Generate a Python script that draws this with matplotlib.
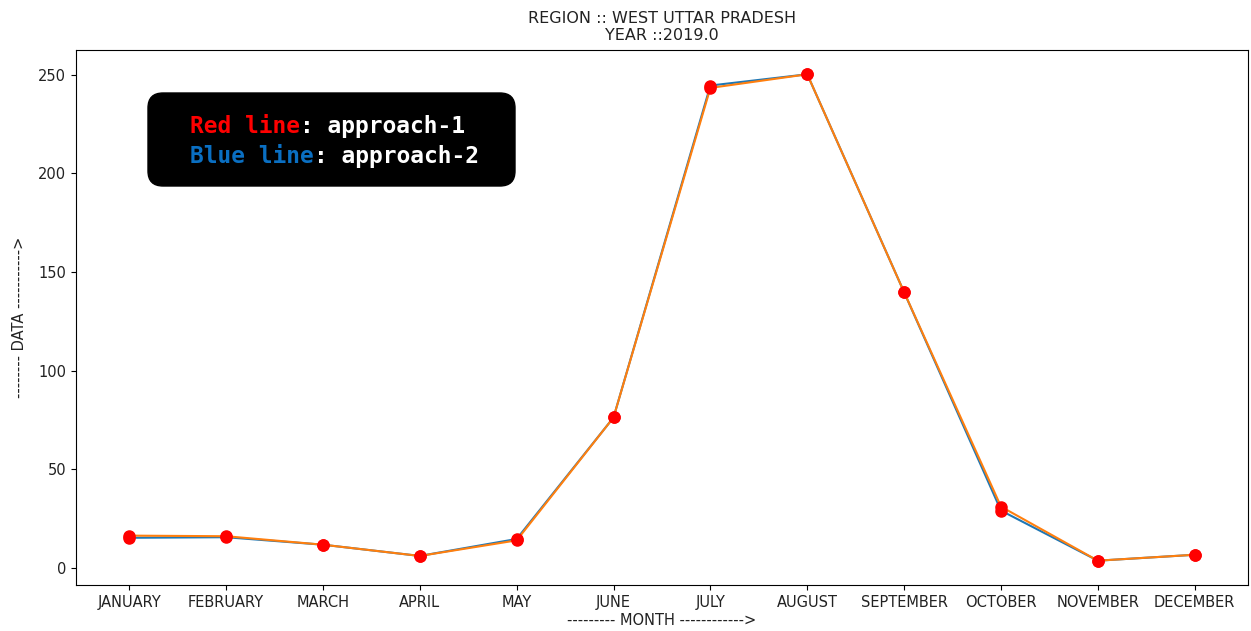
import matplotlib
matplotlib.use("Agg")
import matplotlib.pyplot as plt
from matplotlib.patches import FancyBboxPatch

months = ["JANUARY", "FEBRUARY", "MARCH", "APRIL", "MAY", "JUNE", "JULY",
          "AUGUST", "SEPTEMBER", "OCTOBER", "NOVEMBER", "DECEMBER"]
approach_2 = [15.2, 15.5, 11.7, 6.0, 14.6, 76.2, 244.5, 250.2, 139.7, 29.0, 3.6, 6.6]
approach_1 = [16.3, 16.0, 11.7, 6.0, 13.9, 76.2, 243.3, 250.2, 139.7, 31.0, 3.6, 6.6]

region = "WEST UTTAR PRADESH"
year = 2019.0

fig = plt.figure(figsize=(12.51, 6.31), dpi=100)
ax = fig.add_axes([0.0607, 0.0729, 0.9369, 0.8479])

x = list(range(len(months)))
ax.plot(x, approach_2, color="#1f77b4", linewidth=1.5)
ax.plot(x, approach_1, color="#ff7f0e", linewidth=1.5)
ax.plot(x, approach_2, "ro", markersize=8)
ax.plot(x, approach_1, "ro", markersize=8)

ax.set_xticks(x)
ax.set_xticklabels(months, fontsize=10.5, color="#222222")
ax.tick_params(axis="y", labelsize=10.5, labelcolor="#222222")
ax.set_xlabel("--------- MONTH ------------>", fontsize=10.5, labelpad=2,
              color="#222222")
ax.set_ylabel("-------- DATA ----------->", fontsize=10.5, labelpad=8,
              color="#222222")
ax.set_title(f"REGION :: {region}\nYEAR ::{year}", fontsize=11.5, pad=7,
             linespacing=1.2, color="#222222")

# Note box in figure pixel coordinates
W, H = 1251, 631
box = FancyBboxPatch((148 / W, 1 - 186 / H), (515 - 148) / W, (186 - 93) / H,
                     boxstyle="round,pad=0,rounding_size=0.012",
                     transform=fig.transFigure, facecolor="black",
                     edgecolor="black", mutation_aspect=W / H, zorder=5)
fig.patches.append(box)

fs = 16.5
rows = [("Red line", "red", ": approach-1", 133),
        ("Blue line", "#0a6fc2", ": approach-2", 163)]
fig.canvas.draw()
renderer = fig.canvas.get_renderer()
for word, col, rest, ybase in rows:
    t1 = fig.text(190 / W, 1 - ybase / H, word, color=col, fontsize=fs,
                  family="DejaVu Sans Mono", fontweight="bold",
                  va="baseline", ha="left", zorder=6)
    bb = t1.get_window_extent(renderer)
    fig.text(bb.x1 / W, 1 - ybase / H, rest, color="white", fontsize=fs,
             family="DejaVu Sans Mono", fontweight="bold",
             va="baseline", ha="left", zorder=6)

fig.savefig("out.png", dpi=100)
